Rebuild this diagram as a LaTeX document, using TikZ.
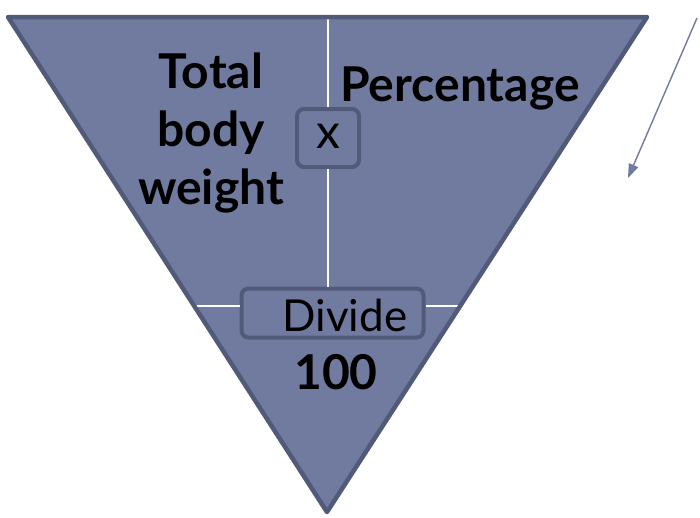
\documentclass[tikz,border=0pt]{standalone}
\usepackage{fontspec}
\setmainfont{Lato}
\usetikzlibrary{arrows.meta}
\definecolor{trifill}{HTML}{717BA0}
\definecolor{triedge}{HTML}{525A7A}

\begin{document}
\begin{tikzpicture}[x=1pt,y=-1pt,
    box/.style={draw=triedge, line width=4pt, rounded corners=7pt, fill=trifill, inner sep=0pt},
    bigtext/.style={font=\fontsize{48}{58}\selectfont\bfseries, text=black, inner sep=0pt},
    boxtext/.style={font=\fontsize{44}{48}\selectfont, text=black, inner sep=0pt},
    divider/.style={white, line width=2pt}]
  \useasboundingbox (0,0) rectangle (700,517);

  % triangle corners
  \coordinate (TL) at (8,17);
  \coordinate (TR) at (647,17);
  \coordinate (B) at (327,512);
  % ends of the divider lines on the edges
  \coordinate (hl) at (194,306);
  \coordinate (hr) at (461,306);

  \fill[trifill] (TL) -- (TR) -- (B) -- cycle;

  % boxes
  \node[box, minimum width=62pt, minimum height=58pt] (times) at (328,138) {};
  \node[box, minimum width=182pt, minimum height=49pt] (divide) at (332.5,313) {};

  % dividers
  \draw[divider] (times.north) -- (times.north |- TL);
  \draw[divider] (times.south) -- (times.south |- divide.north);
  \draw[divider] (hl) -- (hl -| divide.west);
  \draw[divider] (divide.east |- hr) -- (hr);

  \draw[triedge, line width=4.5pt, line join=round] (TL) -- (TR) -- (B) -- cycle;

  % labels
  \node[boxtext, font=\fontsize{48}{48}\selectfont] (x) at ([yshift=2pt]times) {x};
  \node[boxtext, anchor=base] (dividetext) at (345,331) {Divide};
  \node[bigtext, align=center] (weight) at (211,133) {Total\\body\\weight};
  \node[bigtext] (pct) at (460,88) {Percentage};
  \node[bigtext] (hundred) at (336,372) {100};

  % pointer
  \coordinate (arrowtail) at (697,18);
  \coordinate (arrowtip) at (628,178);
  \draw[-{Triangle[length=14pt,width=10pt]}, line width=1.4pt, trifill] (arrowtail) -- (arrowtip);
\end{tikzpicture}
\end{document}
